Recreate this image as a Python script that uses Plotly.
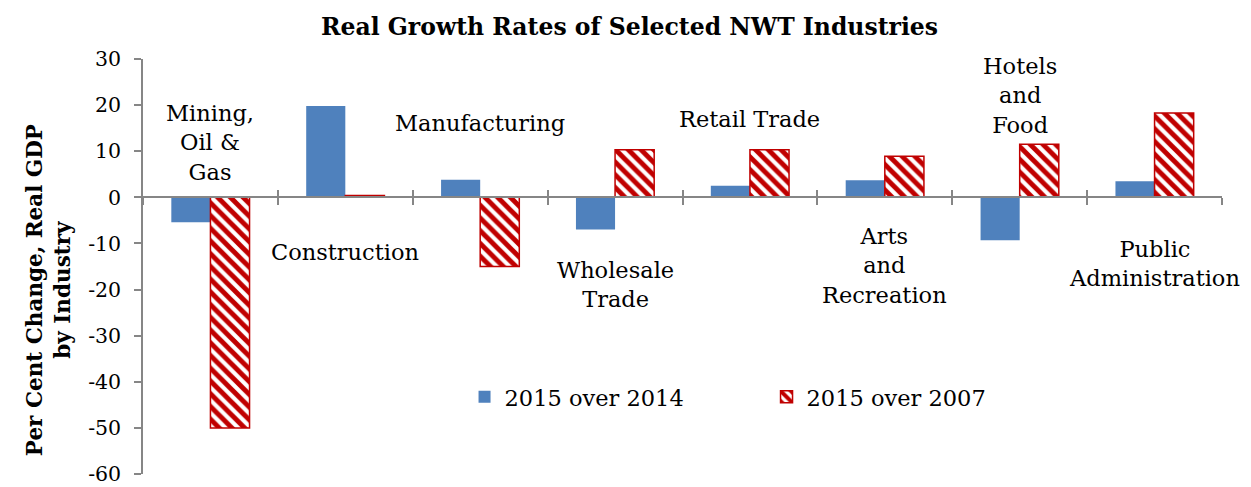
import plotly.graph_objects as go

categories = ["Mining, Oil & Gas", "Construction", "Manufacturing", "Wholesale Trade",
              "Retail Trade", "Arts and Recreation", "Hotels and Food", "Public Administration"]
label_text = ["Mining,<br>Oil &<br>Gas", "Construction", "Manufacturing", "Wholesale<br>Trade",
              "Retail Trade", "Arts<br>and<br>Recreation", "Hotels<br>and<br>Food", "Public<br>Administration"]
label_y = [11.8, -11.9, 16.2, -18.8, 17.0, -14.7, 22.0, -14.3]
growth_2014 = [-5.4, 19.8, 3.8, -7.0, 2.5, 3.7, -9.3, 3.5]
growth_2007 = [-50.0, 0.4, -15.0, 10.3, 10.3, 8.9, 11.5, 18.3]
y_ticks = [30, 20, 10, 0, -10, -20, -30, -40, -50, -60]

FONT = "DejaVu Serif"
GRAY = "#868686"
BLUE = "#4F81BD"
RED = "#C00000"

fig = go.Figure()
fig.add_trace(go.Bar(x=categories, y=growth_2014, name="2015 over 2014",
                     marker=dict(color=BLUE, line=dict(width=0))))
fig.add_trace(go.Bar(x=categories, y=growth_2007, name="2015 over 2007",
                     marker=dict(color="white", line=dict(color=RED, width=1.5),
                                 pattern=dict(shape="\\", fgcolor=RED, bgcolor="white",
                                              fgopacity=1, size=9, solidity=0.55))))
# helper trace for the crossing tick marks on the zero axis
fig.add_trace(go.Scatter(x=categories, y=[None] * len(categories), xaxis="x2",
                         showlegend=False, hoverinfo="skip", mode="lines"))

for cat, txt, yv in zip(categories, label_text, label_y):
    fig.add_annotation(x=cat, y=yv, text=txt, showarrow=False,
                       font=dict(family=FONT, size=22.5, color="black"))

zero_pos = 60 / 90
# the page body adds an 8px offset, so the figure is sized 8px smaller
fig.update_layout(
    width=1243, height=479,
    margin=dict(l=135, r=29, t=51, b=13, autoexpand=False),
    paper_bgcolor="white", plot_bgcolor="white",
    barmode="group", bargap=0.42, bargroupgap=0,
    font=dict(family=FONT, size=20, color="black"),
    title=dict(text="<b>Real Growth Rates of Selected NWT Industries</b>",
               x=0.5, xanchor="center", y=0.96, yanchor="middle",
               font=dict(family=FONT, size=23.5, color="black")),
    showlegend=True,
    legend=dict(orientation="h", x=0.298, y=0.185, xanchor="left", yanchor="middle",
                entrywidth=257, entrywidthmode="pixels", bgcolor="rgba(0,0,0,0)",
                font=dict(family=FONT, size=22.5, color="black")),
    xaxis=dict(type="category", categoryorder="array", categoryarray=categories,
               range=[-0.5, 7.5], anchor="free", position=zero_pos,
               showline=True, linecolor=GRAY, linewidth=1.5,
               ticks="outside", ticklen=7, tickcolor=GRAY, tickwidth=1.5,
               tickson="boundaries", showticklabels=False, showgrid=False, zeroline=False,
               automargin=False),
    xaxis2=dict(type="category", categoryorder="array", categoryarray=categories,
                range=[-0.5, 7.5], overlaying="x", anchor="free", position=zero_pos,
                showline=False, ticks="inside", ticklen=7, tickcolor=GRAY, tickwidth=1.5,
                tickson="boundaries", showticklabels=False, showgrid=False, zeroline=False,
                automargin=False),
    yaxis=dict(range=[-60, 30], tickvals=y_ticks, ticktext=[str(v) for v in y_ticks],
               showline=True, linecolor=GRAY, linewidth=1.5,
               ticks="outside", ticklen=7, tickcolor=GRAY, tickwidth=1.5,
               ticklabelstandoff=9, automargin=False,
               showgrid=False, zeroline=False,
               tickfont=dict(family=FONT, size=20.5, color="black")),
)
fig.add_annotation(text="<b>Per Cent Change, Real GDP<br>by Industry</b>", textangle=-90,
                   xref="paper", yref="paper", x=-0.088, y=0.443,
                   xanchor="center", yanchor="middle", showarrow=False,
                   font=dict(family=FONT, size=21.5, color="black"))

fig.write_html("out.html")
